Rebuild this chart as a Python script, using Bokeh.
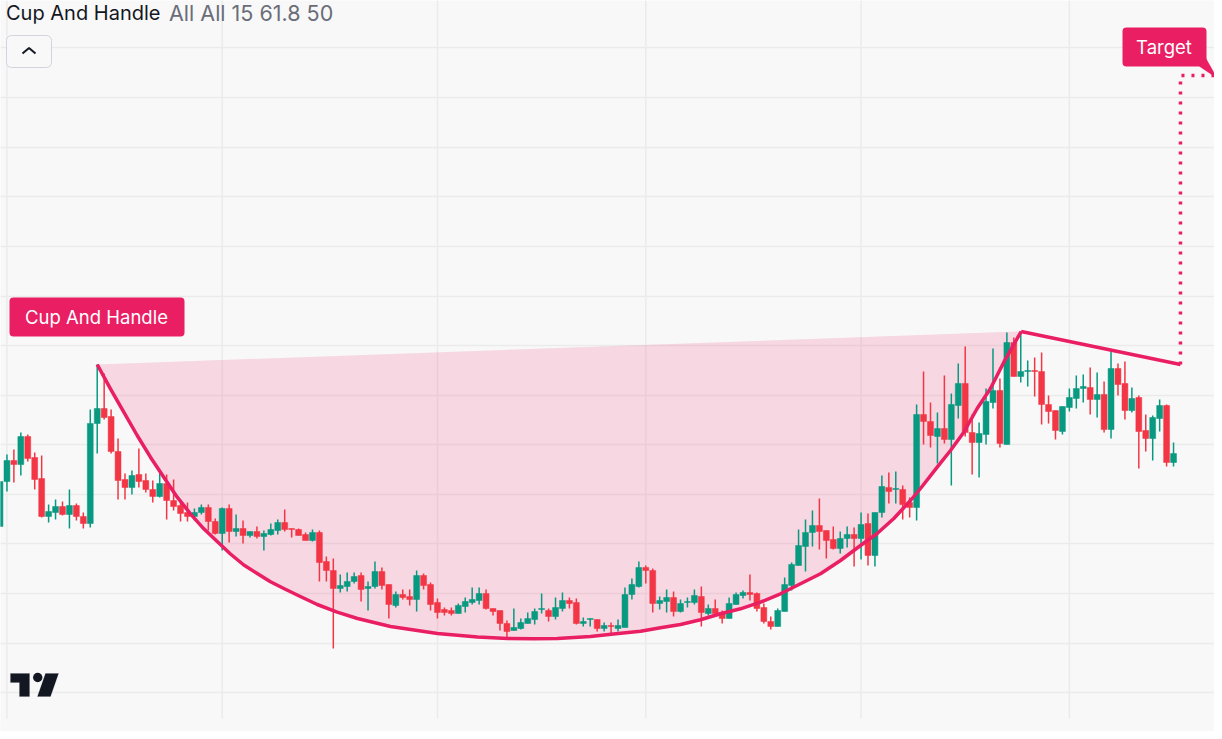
from bokeh.plotting import figure
from bokeh.embed import file_html
from bokeh.resources import INLINE
from bokeh.models import BoxAnnotation, FixedTicker, Label, PolyAnnotation, Range1d

# candles, one bar per index
opens = [213,258,279,275,303,282,261,223,227,233,225,234,223,216,316,331,323,288,260,252,
         265,259,250,243,256,239,234,227,223,227,232,218,206,231,208,211,204,208,203,205,
         209,217,211,210,205,199,207,178,169,151,153,158,164,151,153,168,155,134,145,143,
         140,164,155,137,130,129,126,133,137,139,146,131,129,116,109,111,116,120,130,129,
         123,131,139,137,116,120,120,111,114,111,112,145,153,172,169,136,138,142,128,137,
         137,143,126,131,127,121,135,144,147,146,132,118,113,128,154,174,193,207,214,209,
         200,191,201,205,201,216,184,227,252,250,250,237,232,325,318,303,311,300,334,356,
         307,297,305,337,349,295,397,363,368,369,368,335,329,308,332,341,351,352,340,345,
         310,371,356,329,342,309,301,321,334,277]
highs = [258,285,290,307,305,287,284,235,240,238,250,236,227,330,375,366,330,301,266,269,
         291,266,259,267,265,260,240,237,231,235,235,221,232,235,225,219,208,213,209,216,
         220,230,211,211,207,210,209,183,181,165,167,167,167,158,178,172,155,148,150,150,
         169,166,157,141,132,132,136,142,152,152,150,131,129,119,131,121,127,131,146,131,
         142,147,142,141,122,121,120,117,117,120,152,161,178,174,171,143,150,148,140,142,
         150,153,135,140,129,142,147,149,165,147,136,123,131,162,177,210,220,229,241,209,
         213,208,213,212,227,226,227,264,267,268,254,242,335,368,337,327,364,346,376,393,
         325,317,351,391,361,407,402,408,379,382,387,344,329,333,351,364,365,372,367,358,
         389,376,378,352,344,325,324,340,335,297]
lows = [213,248,257,264,278,250,222,217,220,224,211,219,211,212,286,320,286,240,240,245,
        252,247,237,242,220,229,218,218,219,225,209,205,189,197,203,196,202,201,189,204,
        205,208,202,204,199,198,158,158,91,147,148,156,138,129,151,150,121,132,140,134,
        128,150,129,121,124,124,126,127,135,135,130,124,109,101,109,110,116,115,126,118,
        120,128,131,115,113,113,108,108,104,108,112,140,152,156,127,130,127,123,127,132,
        135,113,124,126,116,121,135,141,139,128,116,110,113,128,149,174,168,193,190,181,
        190,186,192,173,180,174,173,222,236,236,220,222,219,295,292,276,296,254,321,303,
        265,262,295,331,292,295,363,357,353,343,315,316,300,305,328,331,337,325,322,307,
        301,344,320,327,271,288,279,308,273,273]
closes = [258,279,275,303,281,260,223,228,233,225,234,223,216,316,331,322,288,259,252,264,
          258,250,243,256,239,233,226,223,227,232,218,206,231,208,211,204,208,203,206,210,
          217,210,210,204,199,207,177,169,151,154,158,163,150,153,168,154,135,145,142,140,
          164,154,135,127,127,126,134,138,140,146,131,128,116,108,112,117,121,128,131,123,
          132,139,136,116,118,121,111,114,113,114,145,155,172,169,136,139,142,128,136,138,
          144,127,131,126,121,136,145,147,145,131,118,113,129,155,175,194,207,214,208,199,
          191,201,205,201,215,184,227,253,248,251,235,232,325,318,304,311,300,335,356,307,
          297,306,338,349,296,397,363,368,369,368,335,328,309,333,342,351,353,340,345,310,
          371,355,329,341,308,301,322,334,277,286]

# pattern pivots, x is a fractional bar index
cup_x = [14.0,15.91,17.83,19.76,21.67,23.59,25.52,27.43,29.35,31.28,33.19,35.11,37.04,38.95,40.87,42.8,
         45.68,48.56,51.48,56.24,63.0,68.76,73.1,76.83,80.28,85.04,88.35,92.24,95.12,98.0,100.88,103.76,
         106.64,109.52,112.4,115.28,118.16,121.04,123.92,126.32,128.72,131.12,132.56,134.97,136.88,138.8,
         140.72,142.64,144.56,147.06]
cup_y = [375,350.7,327.3,304,282.3,262.3,242.3,225.7,210.7,198,185.5,174.5,166,157.7,151,144.5,
         135,127.3,121,113,106,102.5,101,100.7,101,103,105.5,108.3,111.7,115,119.7,125.7,
         130.7,137.3,145.7,155.7,165.7,179,194,206,221,239,251,272.3,289,307.3,
         331,351,377.3,408]
handle_x = [147.06, 170.0]
handle_y = [408, 375]
target_x = [170.0, 170.0, 175.2]
target_y = [375, 664, 664]

price_grid = [692,642,592,543,493,443,394,344,295,245,196,146,96,47]
time_grid = [1,32,63,93,124,154]

PINK = "#e91e63"
GREEN = "#089981"
RED = "#f23645"
DARK = "#131722"
BG = "#f8f8f8"

p = figure(width=1214, height=731, output_backend="svg", toolbar_location=None,
           x_range=Range1d(0.072, 174.9), y_range=Range1d(8, 739),
           x_axis_location=None, y_axis_location=None, min_border=0)
p.background_fill_color = BG
p.border_fill_color = BG
p.outline_line_color = None
p.xgrid.visible = False
p.ygrid.ticker = FixedTicker(ticks=price_grid)
p.ygrid.grid_line_color = "#ebebeb"
p.ygrid.grid_line_width = 1.5

p.segment(x0=time_grid, x1=time_grid, y0=[21] * len(time_grid), y1=[739] * len(time_grid),
          line_color="#ebebeb", line_width=1.5)

p.patch(cup_x, cup_y, fill_color=PINK, fill_alpha=0.15, line_color=None)

idx = list(range(len(opens)))
colors = [GREEN if c >= o else RED for o, c in zip(opens, closes)]
tops = [max(o, c) for o, c in zip(opens, closes)]
bottoms = [min(o, c) for o, c in zip(opens, closes)]
p.segment(x0=idx, x1=idx, y0=lows, y1=highs, line_color=colors, line_width=1.5)
p.vbar(x=idx, top=tops, bottom=bottoms, width=0.85, fill_color=colors, line_color=colors, line_width=0.5)

p.line(cup_x, cup_y, line_color=PINK, line_width=3.5, line_join="round")
p.line(handle_x, handle_y, line_color=PINK, line_width=3.5)
p.line(target_x, target_y, line_color=PINK, line_width=3.5, line_dash=[3, 7])


# annotations are placed by page position in the reference
def sy(y):
    return 731 - y


def box(left, right, top, bottom, fill, line=None, radius=4):
    p.add_layout(BoxAnnotation(left=left, right=right, top=sy(top), bottom=sy(bottom),
                               left_units="screen", right_units="screen",
                               top_units="screen", bottom_units="screen",
                               fill_color=fill, fill_alpha=1, line_color=line, line_alpha=1,
                               line_width=1, border_radius=radius))


def text(x, y, s, color, size, align="left", font="Inter"):
    p.add_layout(Label(x=x, y=sy(y), x_units="screen", y_units="screen", text=s,
                       text_color=color, text_font=font, text_font_size=size, text_align=align,
                       text_baseline="middle", level="overlay"))


def poly(xs, ys, color):
    p.add_layout(PolyAnnotation(xs=xs, ys=[sy(y) for y in ys],
                                xs_units="screen", ys_units="screen",
                                fill_color=color, fill_alpha=1, line_color=color, line_width=0.5))


text(5.5, 12.5, "Cup And Handle", DARK, "20px")
text(168.5, 12.5, "All All 15 61.8 50", "#6a6d78", "21.5px")

box(6, 51, 35, 67, BG, "#d1d4dc", 5)
p.line([3.24, 4.18, 5.11], [686, 691.5, 686], line_color=DARK, line_width=2, level="overlay")

box(9, 184, 297, 336, PINK)
text(96, 316, "Cup And Handle", "#ffffff", "18.5px", "center")

box(1122, 1206, 27, 66, PINK)
poly([1205, 1217, 1199], [57, 78, 66], PINK)
text(1163.5, 46, "Target", "#ffffff", "18.5px", "center")

poly([10, 29, 29, 19, 19, 10], [673, 673, 696, 696, 682, 682], DARK)
poly([45, 58, 50, 37], [673, 673, 696, 696], DARK)
p.scatter([5.43], [62], size=9.4, fill_color=DARK, line_color=None)

open("out.html", "w").write(file_html(p, INLINE))
